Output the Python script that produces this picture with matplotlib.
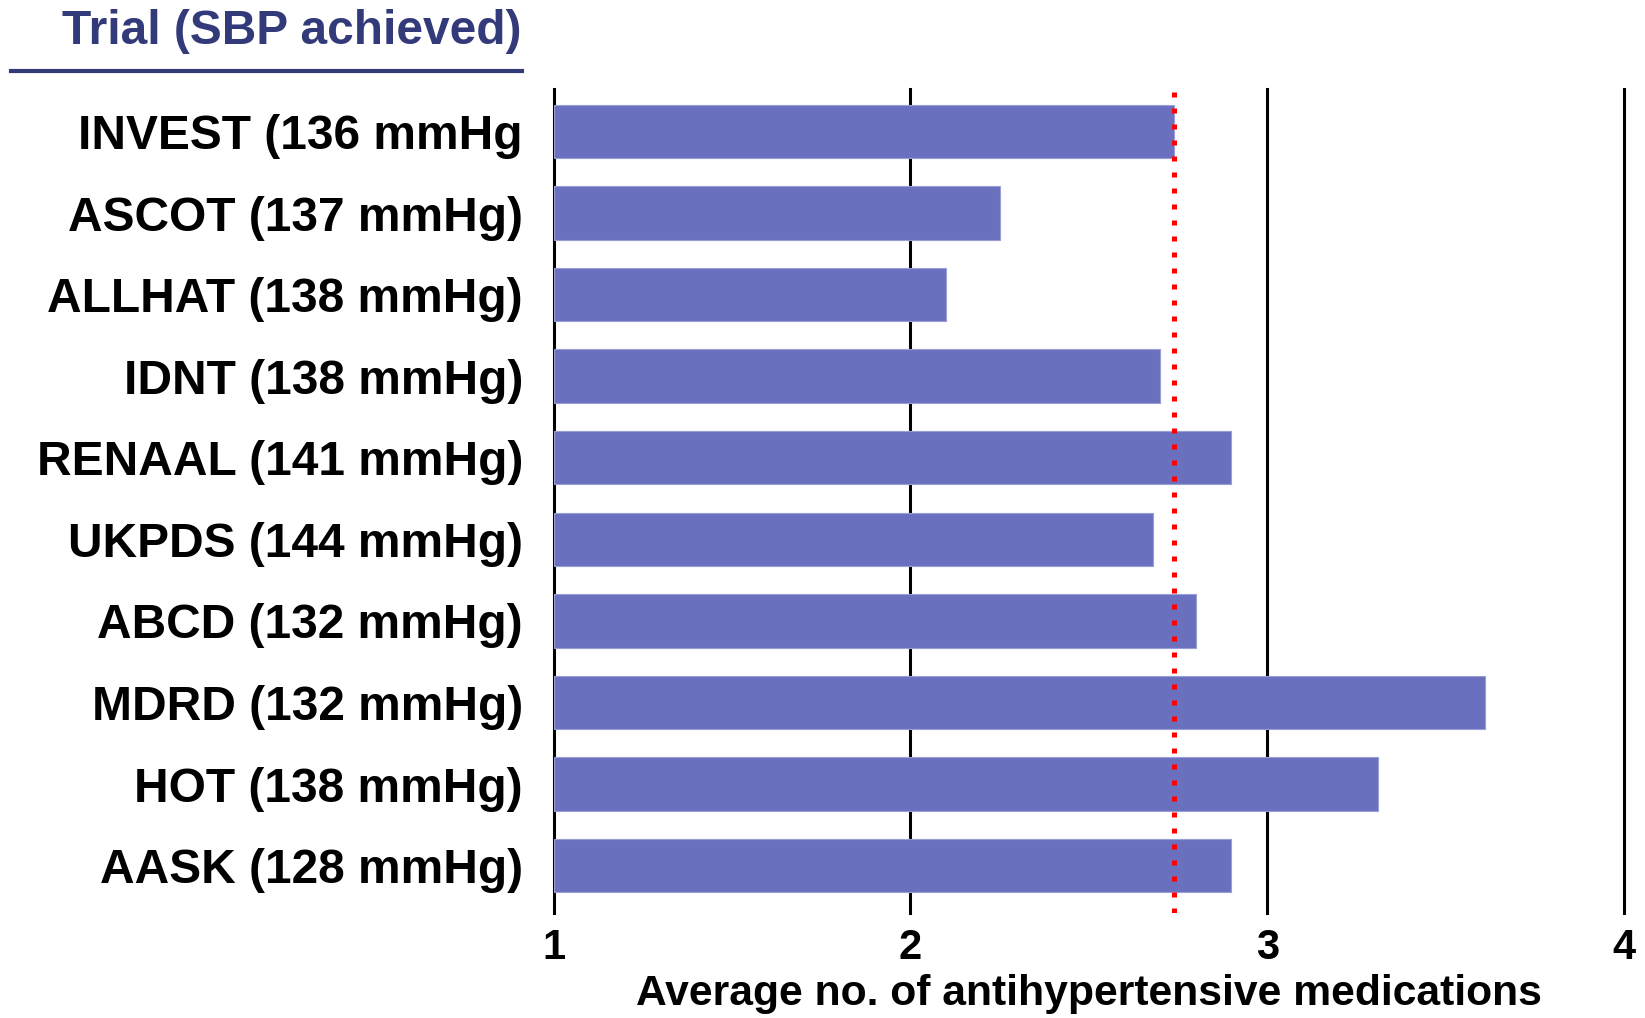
import matplotlib
matplotlib.use("Agg")
import matplotlib.pyplot as plt
from matplotlib.lines import Line2D
import numpy as np

plt.rcParams['font.family'] = ['Liberation Sans', 'DejaVu Sans']

trials = ["INVEST (136 mmHg", "ASCOT (137 mmHg)", "ALLHAT (138 mmHg)", "IDNT (138 mmHg)",
          "RENAAL (141 mmHg)", "UKPDS (144 mmHg)", "ABCD (132 mmHg)", "MDRD (132 mmHg)",
          "HOT (138 mmHg)", "AASK (128 mmHg)"]
avg_meds = [2.74, 2.25, 2.10, 2.70, 2.90, 2.68, 2.80, 3.61, 3.31, 2.90]
reference_line = 2.74
xticks = [1, 2, 3, 4]
xlabel = "Average no. of antihypertensive medications"
title = "Trial (SBP achieved)"

W, H = 1645, 1018
fig = plt.figure(figsize=(W / 100, H / 100), dpi=100)
left, right = 553.5 / W, 1624 / W
top, bottom = 1 - 89 / H, 1 - 913 / H
ax = fig.add_axes([left, bottom, right - left, top - bottom])

y = np.arange(len(trials))
ax.barh(y, np.array(avg_meds) - 1, left=1, height=0.655, color="#6A70BE",
        edgecolor="#9a9ed6", linewidth=0.8, zorder=3)
ax.axvline(reference_line, color="#ff0000", lw=3.6, linestyle=(0, (1, 2.2)), zorder=4)

ax.set_xlim(1, 4)
ax.set_ylim(9.58, -0.52)
ax.set_xticks(xticks)
ax.set_xticklabels([str(t) for t in xticks], fontsize=30, fontweight='bold')
ax.set_yticks(y)
ax.set_yticklabels(trials, fontsize=34.5, fontweight='bold')
ax.tick_params(axis='both', length=0)
ax.tick_params(axis='y', pad=22)
ax.tick_params(axis='x', pad=11)
ax.grid(axis='x', color='black', lw=2.2, zorder=1)
ax.set_axisbelow(True)
for gl in ax.get_xgridlines():
    gl.set_clip_on(False)
for s in ax.spines.values():
    s.set_visible(False)
ax.set_xlabel(xlabel, fontsize=30.7, fontweight='bold', labelpad=4)

navy = "#333A7A"
fig.text(522 / W, 1 - 32 / H, title, ha='right', va='center', fontsize=34.5,
         fontweight='bold', color=navy)
fig.add_artist(Line2D([10.5 / W, 522 / W], [1 - 71 / H, 1 - 71 / H], lw=3, color=navy))

fig.savefig("out.png", dpi=100)
